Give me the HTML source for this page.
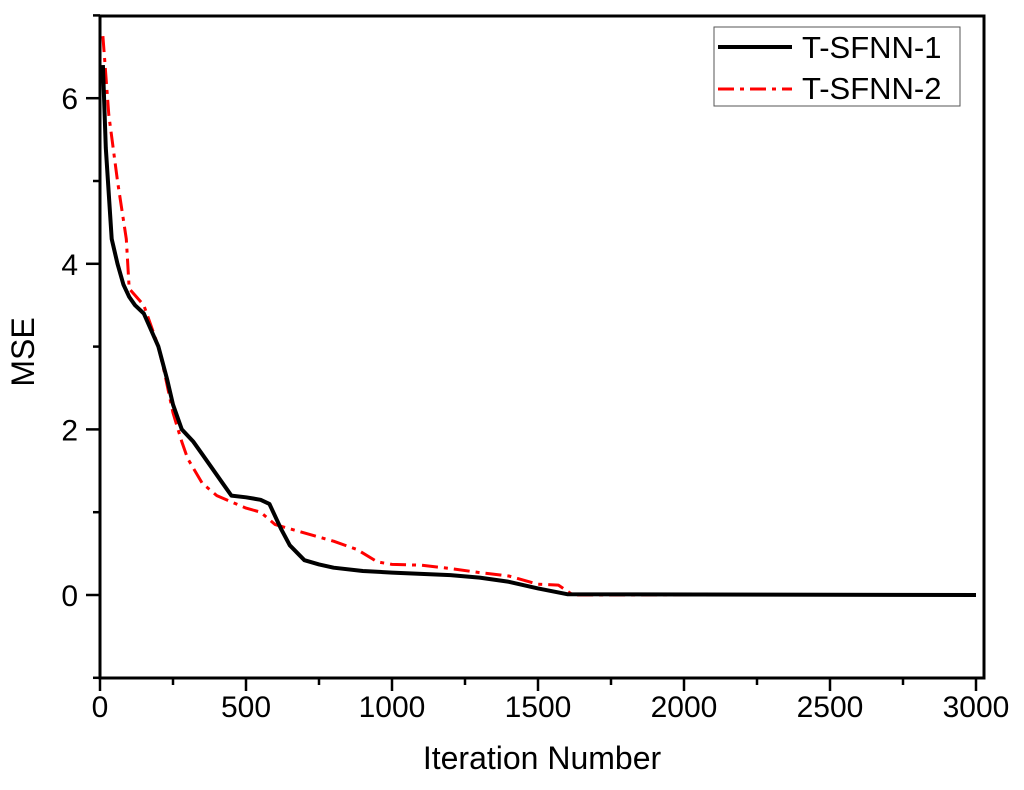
<!DOCTYPE html>
<html><head><meta charset="utf-8"><style>
body{margin:0;background:#fff}
svg text{font-family:"Liberation Sans",Arial,sans-serif;fill:#000}
</style></head><body>
<svg width="1024" height="785" xmlns="http://www.w3.org/2000/svg">
<g id="axes"></g><g id="series"></g>
<g>
<rect x="714" y="27" width="246" height="79" fill="#fff" stroke="#555" stroke-width="1"/>
<line x1="718" y1="47" x2="792" y2="47" stroke="#000" stroke-width="4"/>
<text x="802" y="58" font-size="31">T-SFNN-1</text>
<line x1="718" y1="89" x2="792" y2="89" stroke="#f00" stroke-width="3" stroke-dasharray="16,6,4,6"/>
<text x="802" y="99" font-size="31">T-SFNN-2</text>
</g>
<text x="542" y="769" font-size="32" text-anchor="middle">Iteration Number</text>
<text transform="translate(34,352) rotate(-90)" font-size="32" text-anchor="middle">MSE</text>
</svg>
<script>
const xTicks=[0,500,1000,1500,2000,2500,3000];
const yTicks=[0,2,4,6];
const s1x=[10,20,40,60,80,100,120,150,200,230,250,280,320,350,380,420,450,500,550,580,620,650,700,750,800,900,1000,1200,1300,1400,1500,1600,3000];
const s1y=[6.4,5.4,4.3,4.0,3.75,3.6,3.5,3.4,3.0,2.6,2.3,2.0,1.85,1.7,1.55,1.35,1.2,1.18,1.15,1.1,0.8,0.6,0.42,0.37,0.33,0.29,0.27,0.24,0.21,0.16,0.08,0.01,0];
const s2x=[10,30,60,90,100,150,200,220,250,280,300,350,400,500,550,600,700,800,880,950,1000,1100,1200,1300,1400,1500,1570,1620,3000];
const s2y=[6.75,5.8,5.0,4.3,3.7,3.5,3.0,2.7,2.2,1.85,1.65,1.35,1.2,1.05,1.0,0.85,0.75,0.65,0.55,0.4,0.37,0.36,0.32,0.27,0.23,0.13,0.12,0,0];
const L=100,R=984,T=16,B=678;
const X=v=>100+v*(876/3000);
const Y=v=>595-v*82.8;
const NS="http://www.w3.org/2000/svg";
function mk(tag,attrs,parent){const e=document.createElementNS(NS,tag);for(const k in attrs)e.setAttribute(k,attrs[k]);parent.appendChild(e);return e;}
const ax=document.getElementById('axes');
const fr=mk('rect',{x:L,y:T,width:R-L,height:B-T,fill:'none',stroke:'#000','stroke-width':3},ax);


for(let v=0;v<=3000;v+=250){const maj=v%500===0;
 const t=mk('line',{x1:X(v),x2:X(v),y1:B,y2:B+(maj?13:7),stroke:'#000','stroke-width':2.5},ax);
 
 }
xTicks.forEach(v=>{const t=mk('text',{x:X(v),y:717,'font-size':30,'text-anchor':'middle'},ax);t.textContent=v;
 
 });
for(let v=-1;v<=7;v+=1){const maj=v%2===0;
 const t=mk('line',{x1:L,x2:L-(maj?14:7),y1:Y(v),y2:Y(v),stroke:'#000','stroke-width':2.5},ax);
 
 }
yTicks.forEach(v=>{const t=mk('text',{x:78,y:Y(v)+11,'font-size':30,'text-anchor':'end'},ax);t.textContent=v;
 
 });
const se=document.getElementById('series');
function path(xs,ys){return xs.map((x,i)=>(i?'L':'M')+X(x).toFixed(1)+','+Y(ys[i]).toFixed(1)).join(' ');}
const p2=mk('path',{d:path(s2x,s2y),fill:'none',stroke:'#f00','stroke-width':3,'stroke-dasharray':'16,6,4,6','stroke-linejoin':'round'},se);


const p1=mk('path',{d:path(s1x,s1y),fill:'none',stroke:'#000','stroke-width':4,'stroke-linejoin':'round'},se);


</script>
</body></html>
